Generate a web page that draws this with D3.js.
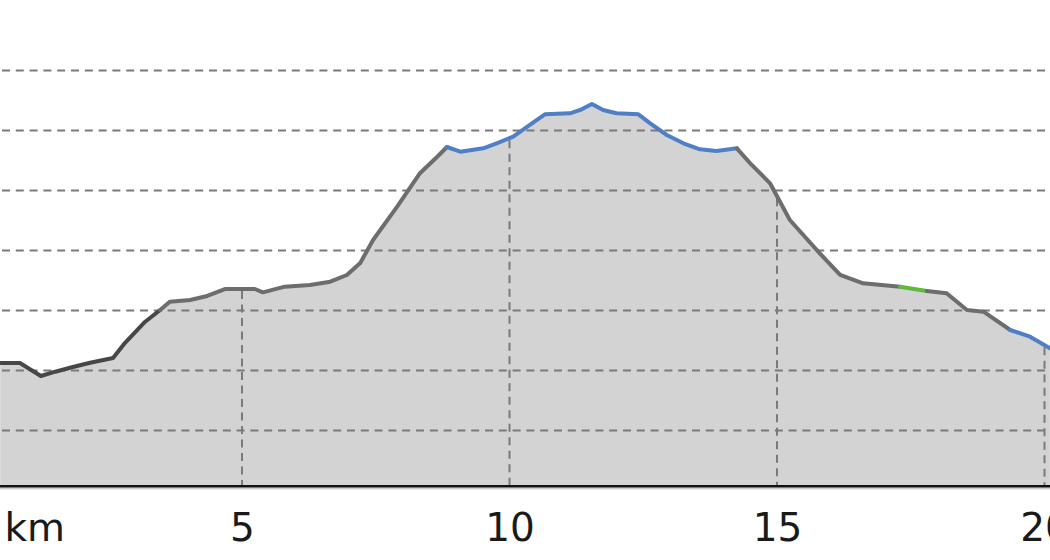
<!DOCTYPE html>
<html>
<head>
<meta charset="utf-8">
<script src="https://cdn.jsdelivr.net/npm/d3@7"></script>
<style>
  html, body { margin: 0; padding: 0; background: #ffffff; }
  svg { display: block; }
</style>
</head>
<body>
<svg id="chart" width="1050" height="560"></svg>
<script>
// ---- data ----
const distanceKm = [0.48, 0.85, 1.24, 1.51, 1.84, 2.16, 2.59, 2.81, 3.19, 3.47, 3.65, 4.03, 4.35, 4.68, 5.24, 5.39, 5.80, 6.27, 6.65, 6.96, 7.21, 7.45, 7.90, 8.33, 8.65,
  8.83, 9.08, 9.51, 9.76, 10.07, 10.38, 10.66, 11.13, 11.35, 11.54, 11.75, 12.00, 12.41, 12.63, 12.94, 13.25, 13.56, 13.87,
  14.25, 14.50, 14.87, 15.24, 15.80, 16.18, 16.61, 17.30, 17.80, 18.17, 18.55, 18.86, 19.36, 19.73, 20.10];
const elevationM = [212.5, 212.5, 190.8, 198, 205.8, 213, 220.8, 245.8, 281.3, 300.8, 314.7, 317.5, 324.2, 335.8, 335.8, 330.3, 339.7, 342.5, 348, 359.2, 379.2, 417.5, 473, 529.2, 556.3,
  572.5, 564.7, 570.3, 578.7, 589.7, 609.2, 627, 628.7, 635.3, 644.2, 634.2, 628.7, 627, 612, 592.5, 578.7, 568.7, 565.8,
  570.3, 545.3, 512, 450.8, 395.3, 359.2, 345.3, 339.7, 332.5, 328.7, 300.8, 298, 267.5, 256.3, 237];
// surface type of the segment starting at each point
const surfaceType = ["dark","dark","dark","dark","dark","dark","dark","dark","dark","gray","gray","gray","gray","gray","gray","gray","gray","gray","gray","gray","gray","gray","gray","gray","gray",
  "blue","blue","blue","blue","blue","blue","blue","blue","blue","blue","blue","blue","blue","blue","blue","blue","blue","blue",
  "gray","gray","gray","gray","gray","gray","gray","green","gray","gray","gray","gray","blue","blue","blue"];
const xTickValues = [5, 10, 15, 20];
const xTickLabels = ["5", "10", "15", "20"];
const yGridValues = [100, 200, 300, 400, 500, 600, 700];
const unitLabel = "km";

// ---- layout ----
const W = 1050, H = 560;
const axisY = 485;
const colors = { dark: "#474747", gray: "#6d6d6d", blue: "#4f7fc4", green: "#5dbb3c" };

const x = d3.scaleLinear().domain([0, 20]).range([-25.5, 1044.5]);
const y = d3.scaleLinear().domain([0, 800]).range([490.5, 10.5]);

const svg = d3.select("#chart");
const pts = distanceKm.map((d, i) => ({ km: d, e: elevationM[i], t: surfaceType[i] }));

// fill
const area = d3.area().x(d => x(d.km)).y0(axisY).y1(d => y(d.e));
svg.append("path").datum(pts).attr("d", area).attr("fill", "#d3d3d3");

// horizontal grid
svg.append("g").selectAll("line").data(yGridValues).join("line")
  .attr("x1", 0).attr("x2", W)
  .attr("y1", d => y(d)).attr("y2", d => y(d))
  .attr("stroke", "#7a7a7a").attr("stroke-width", 2)
  .attr("stroke-dasharray", "8,5.8").attr("stroke-dashoffset", -2);

// vertical grid (from profile down to axis)
const interp = km => {
  const i = d3.bisector(d => d.km).left(pts, km);
  if (i <= 0) return pts[0].e;
  if (i >= pts.length) return pts[pts.length - 1].e;
  const a = pts[i - 1], b = pts[i];
  return a.e + (b.e - a.e) * (km - a.km) / (b.km - a.km);
};
svg.append("g").selectAll("line").data(xTickValues).join("line")
  .attr("x1", d => x(d)).attr("x2", d => x(d))
  .attr("y1", d => y(interp(d)) + 2).attr("y2", axisY)
  .attr("stroke", "#7a7a7a").attr("stroke-width", 2)
  .attr("stroke-dasharray", "8,5.5");

// profile line, grouped by surface type
const runs = [];
for (let i = 0; i < pts.length - 1; i++) {
  const t = pts[i].t;
  if (!runs.length || runs[runs.length - 1].t !== t) runs.push({ t, p: [pts[i]] });
  runs[runs.length - 1].p.push(pts[i + 1]);
}
const line = d3.line().x(d => x(d.km)).y(d => y(d.e));
svg.append("g").selectAll("path").data(runs).join("path")
  .attr("d", d => line(d.p))
  .attr("fill", "none")
  .attr("stroke", d => colors[d.t])
  .attr("stroke-width", 4)
  .attr("stroke-linejoin", "round")
  .attr("stroke-linecap", "round");

// axis line
svg.append("line").attr("x1", 0).attr("x2", W).attr("y1", axisY + 3.5).attr("y2", axisY + 3.5)
  .attr("stroke", "#cfcfcf").attr("stroke-width", 2);
svg.append("line").attr("x1", 0).attr("x2", W).attr("y1", axisY + 1.2).attr("y2", axisY + 1.2)
  .attr("stroke", "#111").attr("stroke-width", 2.6);

// tick labels via d3 axis
const xAxis = d3.axisBottom(x).tickValues(xTickValues)
  .tickFormat((d, i) => xTickLabels[i]).tickSize(0).tickPadding(0);
const gx = svg.append("g").attr("transform", `translate(0, 512)`).call(xAxis);
gx.select(".domain").remove();
gx.selectAll("text")
  .attr("dy", null).attr("y", 29)
  .attr("font-family", "'DejaVu Sans', sans-serif")
  .attr("font-size", 39)
  .attr("fill", "#1a1a1a");

svg.append("text").attr("x", 4.5).attr("y", 541)
  .attr("font-family", "'DejaVu Sans', sans-serif")
  .attr("font-size", 39).attr("fill", "#1a1a1a")
  .text(unitLabel);
</script>
</body>
</html>
